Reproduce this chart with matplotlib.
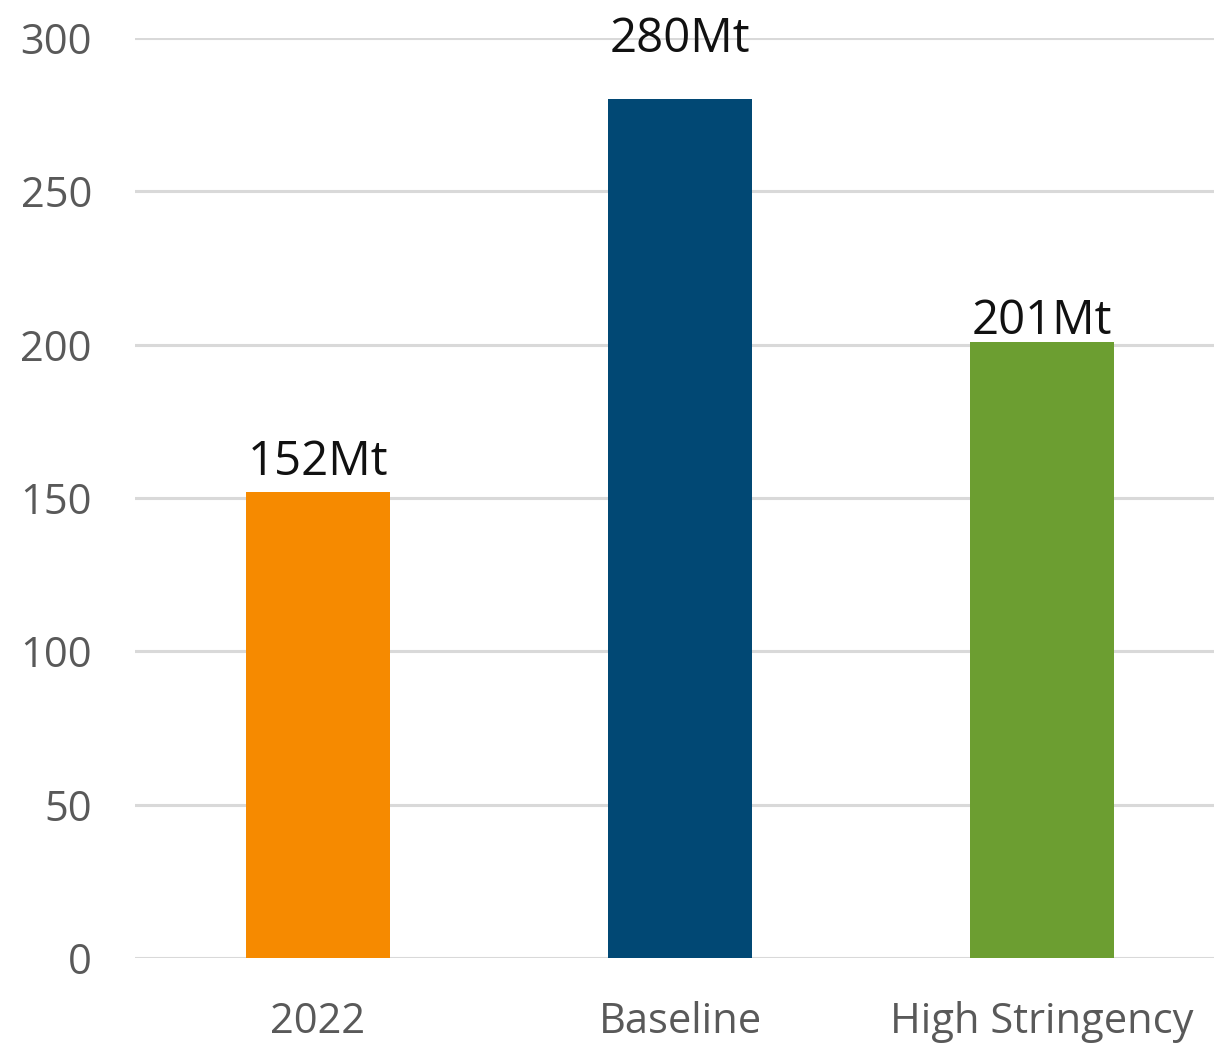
import matplotlib.pyplot as plt

# Emissions by scenario (Mt)
scenarios = ["2022", "Baseline", "High Stringency"]
emissions = [152, 280, 201]
bar_colors = ["#F68A00", "#014874", "#6C9E31"]
label_gap = [6, 36, -3]  # px between bar top and the bottom of its value label box
y_ticks = [0, 50, 100, 150, 200, 250, 300]

plt.rcParams["font.family"] = ["Open Sans", "DejaVu Sans"]

fig = plt.figure(figsize=(12.14, 10.44), dpi=100)
ax = fig.add_axes([135 / 1214, 86 / 1044, 1 - 135 / 1214, 920 / 1044])

x = range(len(scenarios))
bars = ax.bar(x, emissions, width=0.4, color=bar_colors, zorder=3)

for bar, val, gap in zip(bars, emissions, label_gap):
    ax.annotate(f"{val}Mt",
                xy=(bar.get_x() + bar.get_width() / 2, val),
                xytext=(0, gap * 0.72), textcoords="offset points",
                ha="center", va="bottom", fontsize=34, color="#111111",
                annotation_clip=False, zorder=4)

ax.set_xlim(-0.5055, 2.475)
ax.set_ylim(0, 300)
ax.set_yticks(y_ticks)
ax.set_xticks(list(x))
ax.set_xticklabels(scenarios)

ax.grid(axis="y", color="#D9D9D9", linewidth=2.2, zorder=0)
ax.grid(axis="x", visible=False)
for s in ax.spines.values():
    s.set_visible(False)

ax.tick_params(axis="y", length=0, pad=31, labelsize=30, labelcolor="#595959")
ax.tick_params(axis="x", length=0, pad=31, labelsize=30, labelcolor="#595959")

fig.savefig("out.png", dpi=100)
